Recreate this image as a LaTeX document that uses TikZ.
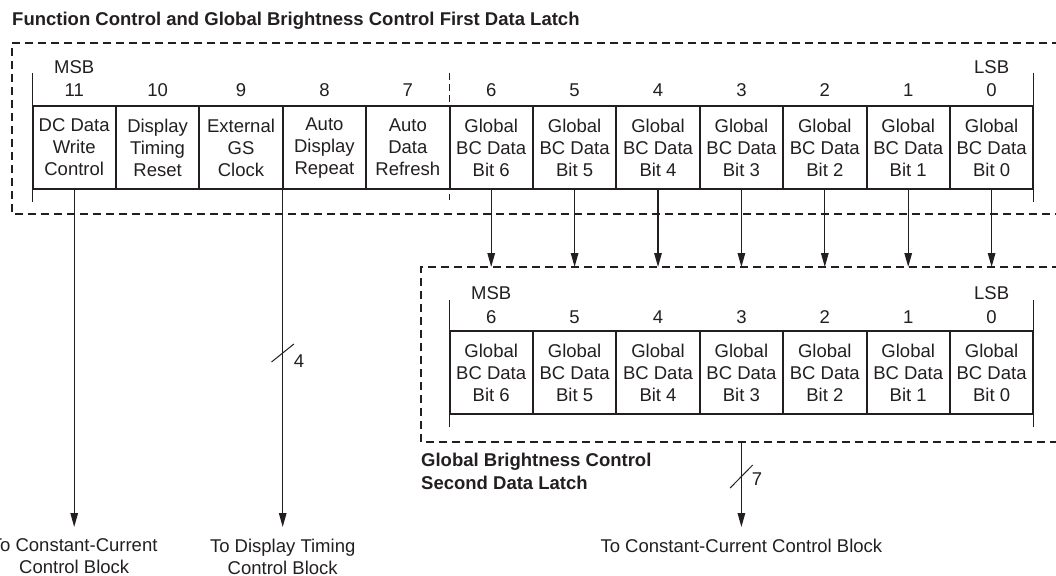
\documentclass[tikz,border=0pt]{standalone}
\usepackage{fontspec}
\setmainfont{Liberation Sans}
\usetikzlibrary{arrows.meta}
\definecolor{ink}{HTML}{231F20}
\tikzset{
  every node/.style={font=\fontsize{18.5}{22}\selectfont, text=ink},
  bitcell/.style={draw=ink, line width=2pt, minimum width=83.4pt, minimum height=83pt,
    inner sep=0pt, outer sep=0pt, align=center},
  latchbox/.style={draw=ink, line width=2pt, dash pattern=on 8pt off 5pt},
  guide/.style={draw=ink, line width=1pt},
  sig/.style={draw=ink, line width=1.3pt, -{Triangle[length=14pt,width=7.5pt]}},
  boldlabel/.style={font=\bfseries\fontsize{18.5}{23}\selectfont, inner sep=0pt},
  dest/.style={anchor=north, inner xsep=0pt, inner ysep=11.5pt, align=center}
}
\begin{document}
\begin{tikzpicture}[x=1pt,y=-1pt]
  \useasboundingbox (0,0) rectangle (1056,575);

  \node[boldlabel, anchor=base west] (title) at (12,26)
    {Function Control and Global Brightness Control First Data Latch};
  \draw[latchbox] (1060,43) -- (12,43) -- (12,214) -- (1060,214);
  \draw[latchbox] (1060,267) -- (421,267) coordinate (l2nw)
    -- (421,442) coordinate (l2sw) -- (1060,442);

  % first data latch
  \foreach \i/\txt in {11/{DC Data\\Write\\Control},10/{Display\\Timing\\Reset},
      9/{External\\GS\\Clock},8/{Auto\\Display\\Repeat},7/{Auto\\Data\\Refresh}}
    \node[bitcell] (a\i) at ({74.2+(11-\i)*83.4},147.6) {\txt};
  \foreach \i in {6,...,0}
    \node[bitcell] (a\i) at ({74.2+(11-\i)*83.4},147.6) {Global\\BC Data\\Bit \i};
  \foreach \i in {11,...,0}
    \node (na\i) at (a\i.north |- 0,90) {\i};
  \node (msba) at (a11.north |- 0,67) {MSB};
  \node (lsba) at (a0.north |- 0,67) {LSB};
  \draw[guide] (a11.south west |- 0,73) -- (a11.south west |- 0,202);
  \draw[guide] (a0.south east |- 0,73) -- (a0.south east |- 0,202);
  \draw[guide, dash pattern=on 7pt off 4pt] (a6.south west |- 0,73) -- (a6.south west |- 0,200);

  % second data latch
  \foreach \i in {6,...,0}
    \node[bitcell] (b\i) at ({74.2+(11-\i)*83.4},372.5) {Global\\BC Data\\Bit \i};
  \foreach \i in {6,...,0}
    \node (nb\i) at (b\i.north |- 0,317) {\i};
  \node (msbb) at (b6.north |- 0,293) {MSB};
  \node (lsbb) at (b0.north |- 0,293) {LSB};
  \draw[guide] (b6.south west |- 0,300) -- (b6.south west |- 0,427);
  \draw[guide] (b0.south east |- 0,300) -- (b0.south east |- 0,427);
  \node[boldlabel, anchor=north west, align=left] (l2name) at (421,452.8)
    {Global Brightness Control\\Second Data Latch};

  % outputs
  \node[dest] (tcc1) at (a11.south |- 0,527) {To Constant-Current\\Control Block};
  \node[dest] (tdt) at (a9.south east |- 0,527) {To Display Timing\\Control Block};
  \node[dest] (tcc2) at (b3.south |- 0,527) {To Constant-Current Control Block};
  \coordinate (q) at (b3.south |- l2sw);
  \begin{scope}
    \draw[sig] (a11.south) -- (tcc1.north);
    \draw[sig] (a9.south east) -- (tdt.north);
    \foreach \i in {6,...,0}
      \draw[sig] (a\i.south) -- (a\i.south |- l2nw);
    \draw[sig] (q) -- (tcc2.north);
  \end{scope}
  \draw[guide] (a9.south east |- 0,353) +(-11.2,9) -- +(11.2,-9);
  \node (w4) at (299,361) {4};
  \draw[guide] (q |- 0,476.5) +(-11.3,11.5) -- +(11.3,-11.5);
  \node (w7) at (757,479) {7};
\end{tikzpicture}
\end{document}
